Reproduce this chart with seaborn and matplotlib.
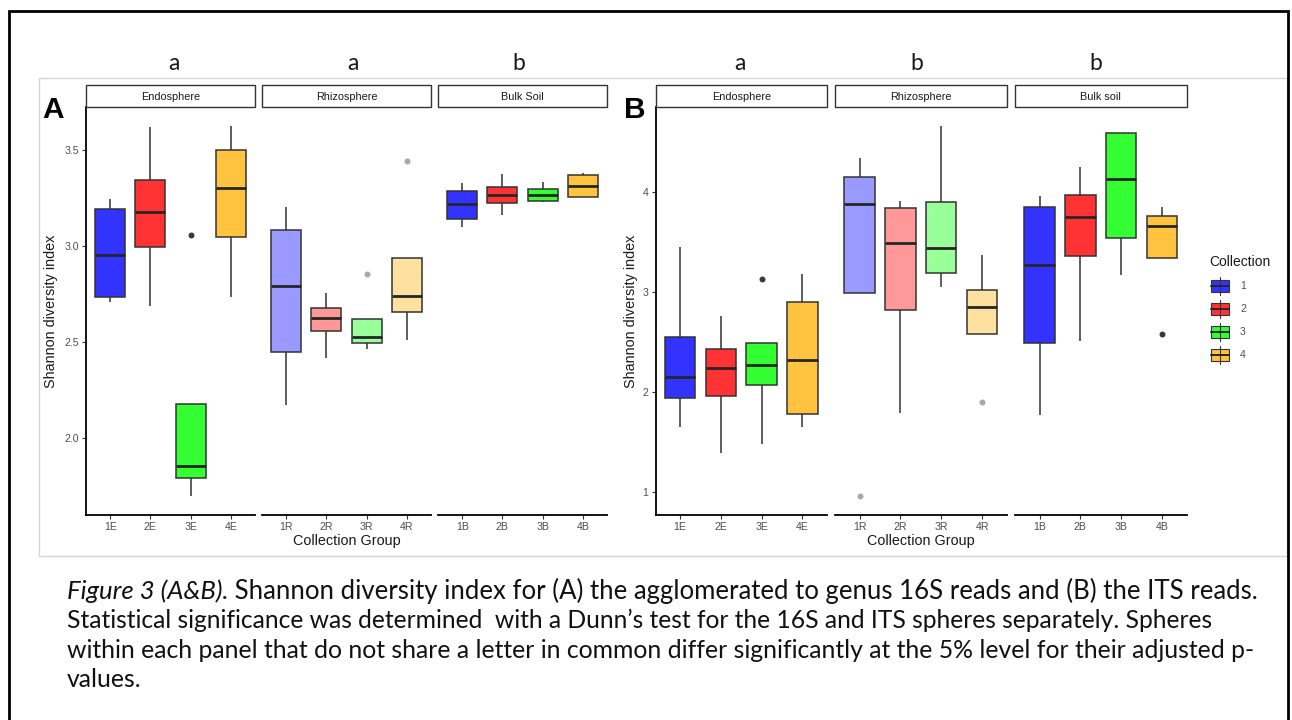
import numpy as np
import pandas as pd
import matplotlib
matplotlib.use("Agg")
import matplotlib.pyplot as plt
from matplotlib.patches import Rectangle
from matplotlib.lines import Line2D
import seaborn as sns

W, H = 1292, 720

# ---------------------------------------------------------------- data
groups = ["1E", "2E", "3E", "4E", "1R", "2R", "3R", "4R", "1B", "2B", "3B", "4B"]
collections = ["1", "2", "3", "4"]
spheres_16s = ["Endosphere", "Rhizosphere", "Bulk Soil"]
spheres_its = ["Endosphere", "Rhizosphere", "Bulk soil"]

# 16S reads: lower whisker, Q1, median, Q3, upper whisker for each collection group
lo_16s  = [2.705, 2.688, 1.694, 2.730, 2.172, 2.415, 2.462, 2.507, 3.096, 3.161, 3.226, 3.253]
q1_16s  = [2.730, 2.993, 1.790, 3.045, 2.446, 2.556, 2.493, 2.656, 3.141, 3.220, 3.234, 3.253]
med_16s = [2.953, 3.174, 1.854, 3.300, 2.788, 2.623, 2.524, 2.736, 3.214, 3.266, 3.264, 3.310]
q3_16s  = [3.190, 3.344, 2.175, 3.497, 3.082, 2.674, 2.620, 2.936, 3.283, 3.307, 3.297, 3.370]
hi_16s  = [3.240, 3.620, 2.175, 3.625, 3.201, 2.753, 2.620, 2.936, 3.326, 3.372, 3.330, 3.379]
out_groups_16s = ["3E", "3R", "4R"]
out_values_16s = [3.057, 2.852, 3.440]

# ITS reads
lo_its  = [1.651, 1.387, 1.477, 1.648, 2.995, 1.794, 3.052, 2.582, 1.771, 2.515, 3.172, 3.339]
q1_its  = [1.944, 1.958, 2.071, 1.778, 2.995, 2.819, 3.189, 2.582, 2.488, 3.356, 3.536, 3.339]
med_its = [2.148, 2.238, 2.271, 2.318, 3.883, 3.490, 3.439, 2.852, 3.269, 3.750, 4.126, 3.663]
q3_its  = [2.552, 2.434, 2.488, 2.899, 4.153, 3.843, 3.896, 3.019, 3.846, 3.966, 4.587, 3.756]
hi_its  = [3.446, 2.765, 2.488, 3.182, 4.343, 3.913, 4.664, 3.372, 3.956, 4.250, 4.587, 3.846]
out_groups_its = ["3E", "1R", "4R", "4B"]
out_values_its = [3.135, 0.957, 1.900, 2.582]

letters_16s = ["a", "a", "b"]
letters_its = ["a", "b", "b"]

yticks_16s = [2.0, 2.5, 3.0, 3.5]
yticklabels_16s = ["2.0", "2.5", "3.0", "3.5"]
yticks_its = [1, 2, 3, 4]
yticklabels_its = ["1", "2", "3", "4"]

colors_main = ["#3333FF", "#FF3333", "#33FF33", "#FFC33F"]
colors_light = ["#9999FF", "#FF9999", "#99FF99", "#FFE19F"]

caption_italic = "Figure 3 (A&B)."
caption_lines = [
    " Shannon diversity index for (A) the agglomerated to genus 16S reads and (B) the ITS reads.",
    "Statistical significance was determined  with a Dunn\u2019s test for the 16S and ITS spheres separately. Spheres",
    "within each panel that do not share a letter in common differ significantly at the 5% level for their adjusted p-",
    "values.",
]
# right end of each caption line (pixels)
caption_line_ends = [1262, 1215, 1256]

# ---------------------------------------------------------------- style
sns.set_theme(style="ticks")
plt.rcParams["font.family"] = ["Liberation Sans", "DejaVu Sans"]
TXT = "#1a1a1a"
TICK = "#4d4d4d"
EDGE = "#333333"

fig = plt.figure(figsize=(W / 100, H / 100), dpi=100)
fig.patch.set_facecolor("white")


def fx(x):
    return x / W


def fy(y):
    return 1 - y / H


def long_table(lo, q1, med, q3, hi, spheres):
    rows = []
    for i, g in enumerate(groups):
        for v in (lo[i], q1[i], med[i], q3[i], hi[i]):
            rows.append({"group": g, "collection": g[0],
                         "sphere": spheres[i // 4], "value": v})
    return pd.DataFrame(rows)


def draw_panel(df, out_groups, out_values, spheres, lefts, width,
               yticks, yticklabels, letters, letter_x, tag, tag_x, ylab_x):
    top, bottom = 107, 515
    vals = list(df["value"]) + list(out_values)
    vmin, vmax = min(vals), max(vals)
    pad = 0.05 * (vmax - vmin)
    for k in range(3):
        left = lefts[k]
        ax = fig.add_axes([fx(left), fy(bottom), width / W, (bottom - top) / H])
        order = groups[4 * k:4 * k + 4]
        sub = df[df["sphere"] == spheres[k]]
        pal = dict(zip(collections, colors_light if k == 1 else colors_main))
        sns.boxplot(data=sub, x="group", y="value", hue="collection",
                    order=order, hue_order=collections, palette=pal,
                    dodge=False, width=0.75, whis=(0, 100), showfliers=False,
                    saturation=1, linecolor=EDGE, linewidth=1.1,
                    medianprops=dict(color="#262626", linewidth=2.0),
                    showcaps=False, legend=False, ax=ax)
        pts = [(g, v) for g, v in zip(out_groups, out_values) if g in order]
        if pts:
            sns.stripplot(x=[p[0] for p in pts], y=[p[1] for p in pts],
                          order=order, jitter=False,
                          color="#A8A8A8" if k == 1 else "#3a3a3a",
                          size=4.3, linewidth=0, ax=ax)
        ax.set_xlim(-0.6, 3.6)
        ax.set_ylim(vmin - pad, vmax + pad)
        ax.set_xlabel("")
        ax.set_ylabel("")
        ax.set_facecolor("white")
        for s in ("top", "right"):
            ax.spines[s].set_visible(False)
        ax.spines["bottom"].set_color("black")
        ax.spines["bottom"].set_linewidth(1.3)
        ax.tick_params(axis="x", length=3, width=0.8, color=EDGE,
                       labelsize=7.6, labelcolor=TICK, pad=2)
        if k == 0:
            ax.spines["left"].set_color("black")
            ax.spines["left"].set_linewidth(1.3)
            ax.set_yticks(yticks)
            ax.set_yticklabels(yticklabels)
            ax.tick_params(axis="y", length=3, width=0.8, color=EDGE,
                           labelsize=7.6, labelcolor=TICK, pad=2)
        else:
            ax.spines["left"].set_visible(False)
            ax.tick_params(axis="y", left=False, labelleft=False)
        for lab in ax.get_xticklabels() + ax.get_yticklabels():
            lab.set_fontfamily(["Liberation Sans", "DejaVu Sans"])

        # facet strip
        fig.add_artist(Rectangle((fx(left), fy(top)), width / W, 22 / H,
                                 transform=fig.transFigure, facecolor="white",
                                 edgecolor=EDGE, linewidth=1.0))
        fig.text(fx(left + width / 2), fy(96.5), spheres[k], ha="center",
                 va="center", fontsize=7.8, color=TXT)
        # significance letter
        fig.text(fx(letter_x[k]), fy(70), letters[k], ha="center",
                 va="baseline", fontsize=16.5, color=TXT, family="Lato")

    fig.text(fx(ylab_x), fy((top + bottom) / 2), "Shannon diversity index",
             rotation=90, ha="center", va="center", fontsize=10.4, color=TXT)
    xc = (lefts[0] + lefts[2] + width) / 2
    fig.text(fx(xc), fy(541), "Collection Group", ha="center", va="center",
             fontsize=10.4, color=TXT)
    fig.text(fx(tag_x), fy(118.5), tag, ha="left", va="baseline",
             fontsize=21.5, fontweight="bold", color="black")


df_16s = long_table(lo_16s, q1_16s, med_16s, q3_16s, hi_16s, spheres_16s)
df_its = long_table(lo_its, q1_its, med_its, q3_its, hi_its, spheres_its)

draw_panel(df_16s, out_groups_16s, out_values_16s, spheres_16s,
           [86, 262, 438], 169, yticks_16s, yticklabels_16s,
           letters_16s, [174, 352.5, 519], "A", 42.5, 51)
draw_panel(df_its, out_groups_its, out_values_its, spheres_its,
           [655.5, 835, 1015], 171.5, yticks_its, yticklabels_its,
           letters_its, [740, 917, 1096], "B", 624.5, 631)

# legend
fig.text(fx(1209), fy(262), "Collection", ha="left", va="center",
         fontsize=10, color=TXT)
for i, c in enumerate(colors_main):
    yc = 285.7 + i * 23.1
    x0, x1 = 1211, 1229
    fig.add_artist(Line2D([fx((x0 + x1) / 2)] * 2, [fy(yc - 9), fy(yc + 9)],
                          transform=fig.transFigure, color=EDGE, linewidth=0.8))
    fig.add_artist(Rectangle((fx(x0), fy(yc + 6)), (x1 - x0) / W, 12 / H,
                             transform=fig.transFigure, facecolor=c,
                             edgecolor=EDGE, linewidth=0.8))
    fig.add_artist(Line2D([fx(x0), fx(x1)], [fy(yc), fy(yc)],
                          transform=fig.transFigure, color="#262626", linewidth=1.4))
    fig.text(fx(1240), fy(yc), collections[i], ha="left", va="center",
             fontsize=7.5, color=TICK)

# frames
fig.add_artist(Rectangle((fx(39.3), fy(556)), (1287 - 39.3) / W, (556 - 77.7) / H,
                         transform=fig.transFigure, facecolor="none",
                         edgecolor="#d6d6d6", linewidth=1.0))
fig.add_artist(Rectangle((fx(8.5), fy(740)), (1287.5 - 8.5) / W, (740 - 11.3) / H,
                         transform=fig.transFigure, facecolor="none",
                         edgecolor="black", linewidth=2.0, clip_on=False))

# caption: each line sized so that it ends where the text block wraps
renderer = fig.canvas.get_renderer()
cap_x, cap_y0, cap_step = 67, 599, 29.3
CAP = "#111111"


def text_width(s, size, style="normal"):
    t = fig.text(0, 0, s, fontsize=size, family="Lato", style=style)
    w = t.get_window_extent(renderer).width
    t.remove()
    return w


sizes = []
for i in range(3):
    s = caption_lines[i]
    w = text_width(s, 15)
    if i == 0:
        w += text_width(caption_italic, 15, "italic")
    sizes.append(15 * (caption_line_ends[i] - cap_x) / w)
sizes.append(sizes[2])

t_it = fig.text(fx(cap_x), fy(cap_y0), caption_italic, fontsize=sizes[0],
                family="Lato", style="italic", va="baseline", ha="left", color=CAP)
w_it = t_it.get_window_extent(renderer).width
fig.text(fx(cap_x + w_it), fy(cap_y0), caption_lines[0], fontsize=sizes[0],
         family="Lato", va="baseline", ha="left", color=CAP)
for i in range(1, 4):
    fig.text(fx(cap_x), fy(cap_y0 + i * cap_step), caption_lines[i],
             fontsize=sizes[i], family="Lato", va="baseline", ha="left", color=CAP)

fig.savefig("out.png", dpi=100, facecolor="white")
